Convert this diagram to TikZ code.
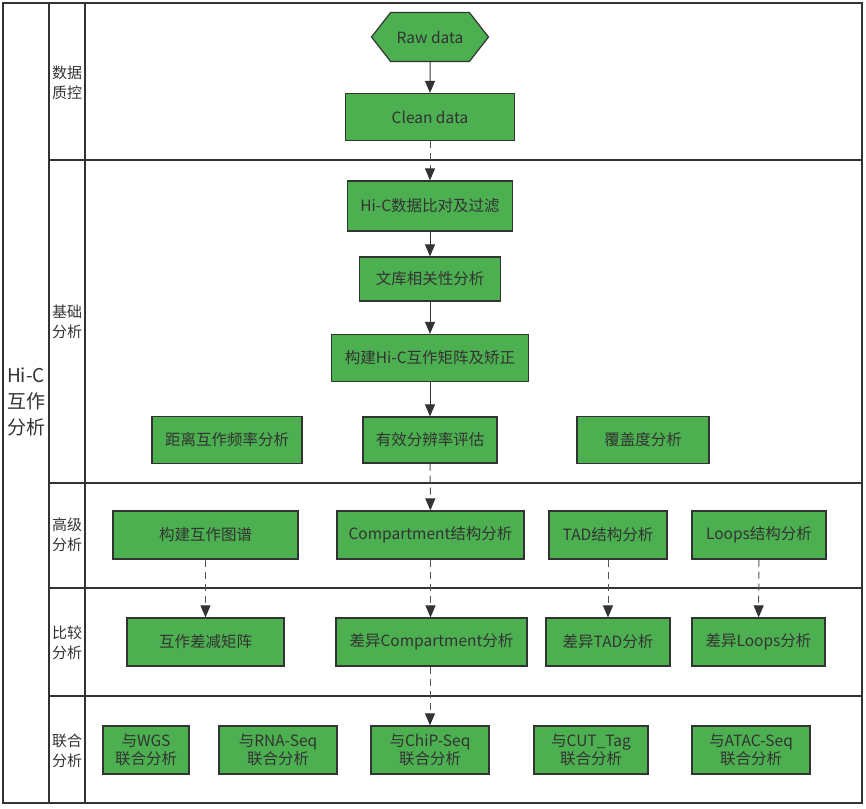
\documentclass[tikz,border=0pt]{standalone}
\usepackage{fontspec}
\setmainfont{Noto Sans CJK SC}
\usetikzlibrary{arrows.meta,shapes.symbols}
\definecolor{boxgreen}{RGB}{76,175,80}
\definecolor{linegray}{RGB}{51,51,51}
\definecolor{dashgray}{RGB}{85,85,85}
\tikzset{
  stepbox/.style={draw=linegray, line width=1.2pt, fill=boxgreen, text=linegray,
    minimum height=48pt, inner sep=0pt, align=center,
    font=\fontsize{15.5}{18.5}\selectfont},
  hexbox/.style={stepbox, shape=signal, signal to=west and east,
    signal pointer angle=104},
  flow/.style={draw=linegray, line width=1pt,
    -{Triangle[width=10pt,length=12pt,color=linegray]}},
  dflow/.style={flow, draw=dashgray, dash pattern=on 7pt off 5pt},
  lane/.style={draw=linegray, line width=2pt},
  lanelabel/.style={text=linegray, inner sep=0pt, align=center,
    font=\fontsize{15}{20}\selectfont}
}

\begin{document}
\begin{tikzpicture}[x=1pt, y=-1pt]
    %%%%% FRAME %%%%%
    \useasboundingbox (0,0) rectangle (866,808);
    \draw[lane] (3,3) rectangle (862,803);
    \draw[lane] (49,3) -- (49,803);
    \draw[lane] (85,3) -- (85,803);
    \draw[lane] (49,160) -- (862,160);
    \draw[lane] (49,483) -- (862,483);
    \draw[lane] (49,588) -- (862,588);
    \draw[lane] (49,696) -- (862,696);

    \node[lanelabel, font=\fontsize{19}{26}\selectfont] (hic) at (26,402) {Hi-C\\互作\\分析};
    \node[lanelabel] (qc) at (67,83) {数据\\质控};
    \node[lanelabel] (basic) at (67,322) {基础\\分析};
    \node[lanelabel] (adv) at (67,535) {高级\\分析};
    \node[lanelabel] (cmp) at (67,643) {比较\\分析};
    \node[lanelabel] (joint) at (67,751) {联合\\分析};

    %%%%% 数据质控 %%%%%
    \node[hexbox, minimum width=117pt, minimum height=49pt] (raw) at (430,37) {Raw data};
    \node[stepbox, minimum width=169pt, minimum height=47pt] (clean) at (430,117) {Clean data};

    %%%%% 基础分析 %%%%%
    \node[stepbox, minimum width=165pt, minimum height=50pt] (align) at (430,206) {Hi-C数据比对及过滤};
    \node[stepbox, minimum width=141pt, minimum height=44pt] (lib) at (430,279) {文库相关性分析};
    \node[stepbox, minimum width=197pt, minimum height=47pt] (matrix) at (430,358) {构建Hi-C互作矩阵及矫正};
    \node[stepbox, minimum width=150pt, minimum height=47pt] (dist) at (227,440) {距离互作频率分析};
    \node[stepbox, minimum width=134pt, minimum height=46pt] (res) at (430,440) {有效分辨率评估};
    \node[stepbox, minimum width=132pt, minimum height=47pt] (cov) at (643,440) {覆盖度分析};

    %%%%% 高级分析 %%%%%
    \node[stepbox, minimum width=185pt] (map) at (205.5,535) {构建互作图谱};
    \node[stepbox, minimum width=187pt] (comp) at (430.5,535) {Compartment结构分析};
    \node[stepbox, minimum width=118pt] (tad) at (608,535) {TAD结构分析};
    \node[stepbox, minimum width=134pt] (loop) at (759,535) {Loops结构分析};

    %%%%% 比较分析 %%%%%
    \node[stepbox, minimum width=157pt] (sub) at (205.5,642) {互作差减矩阵};
    \node[stepbox, minimum width=191pt] (dcomp) at (431.5,642) {差异Compartment分析};
    \node[stepbox, minimum width=124pt] (dtad) at (608,642) {差异TAD分析};
    \node[stepbox, minimum width=133pt] (dloop) at (758.5,642) {差异Loops分析};

    %%%%% 联合分析 %%%%%
    \node[stepbox, minimum width=86pt] (wgs) at (146,750) {与WGS\\联合分析};
    \node[stepbox, minimum width=118pt] (rna) at (278,750) {与RNA-Seq\\联合分析};
    \node[stepbox, minimum width=118pt] (chip) at (430,750) {与ChiP-Seq\\联合分析};
    \node[stepbox, minimum width=114pt] (cut) at (591,750) {与CUT\_Tag\\联合分析};
    \node[stepbox, minimum width=118pt] (atac) at (751,750) {与ATAC-Seq\\联合分析};

    %%%%% ARROWS %%%%%
    \draw[flow] (raw) -- (clean);
    \draw[dflow] (clean) -- (align);
    \draw[flow] (align) -- (lib);
    \draw[flow] (lib) -- (matrix);
    \draw[flow] (matrix) -- (res);
    \draw[dflow] (res) -- (comp);
    \draw[dflow] (map) -- (sub);
    \draw[dflow] (comp.south) -- (dcomp.north -| comp.south);
    \draw[dflow] (tad) -- (dtad);
    \draw[dflow] (loop) -- (dloop);
    \draw[dflow] (dcomp.south -| chip.north) -- (chip);
\end{tikzpicture}
\end{document}
